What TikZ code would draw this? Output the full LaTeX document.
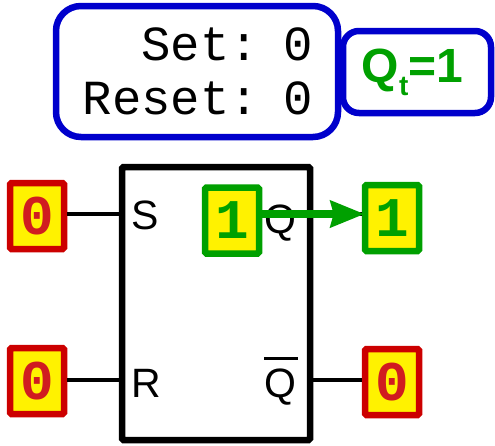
\documentclass[tikz,border=0pt]{standalone}
\usepackage{fontspec}
\setmainfont{Liberation Sans}
\setmonofont{Liberation Mono}
\usetikzlibrary{arrows.meta}
\definecolor{rimblue}{RGB}{0,0,204}
\definecolor{flowgreen}{RGB}{0,160,0}
\definecolor{rimred}{RGB}{204,0,0}
\definecolor{bitred}{RGB}{208,28,32}

\begin{document}
\begin{tikzpicture}[x=1pt,y=-1pt,
  panel/.style={draw=rimblue,line width=6.5pt,fill=white},
  bit/.style={draw=#1,line width=6.5pt,fill=yellow,rounded corners=1.5pt,minimum width=54pt,minimum height=66pt,inner sep=0pt,font=\ttfamily\bfseries\fontsize{56}{56}\selectfont},
  bitlow/.style={bit=rimred,text=bitred},
  bithigh/.style={bit=flowgreen,text=flowgreen},
  pin/.style={font=\fontsize{41}{41}\selectfont,inner sep=0pt,text=black},
  wire/.style={line width=3.5pt},
  flow/.style={-{Stealth[length=34pt,width=26pt,inset=3pt]},line width=8pt,draw=flowgreen,shorten >=-3pt}]
\useasboundingbox (0,0) rectangle (495,445);
\node[panel,rounded corners=25pt,minimum width=282pt,minimum height=131pt,inner xsep=25pt,inner ysep=0pt,text width=232pt,align=right,font=\ttfamily\fontsize{49}{54}\selectfont] (status) at (197,71.5) {Set: 0\\Reset: 0};
\node[panel,rounded corners=16pt,minimum width=148pt,minimum height=82pt,inner sep=0pt,text=flowgreen,font=\bfseries\fontsize{48}{48}\selectfont] (state) at (417,72) {Q{\fontsize{28}{28}\selectfont\raisebox{-13pt}{t}}=1\kern9pt};
\node[draw,line width=6.5pt,rounded corners=1.5pt,minimum width=188pt,minimum height=273pt,inner sep=0pt] (block) at (216,303.5) {};
\node[pin,anchor=base west] (pinS) at (131.5,229) {S};
\node[pin,anchor=base west] (pinR) at (131.5,397) {R};
\node[pin,anchor=base west] (pinQ) at (264,233) {Q};
\node[pin,anchor=base west] (pinNQ) at (264,397) {\rlap{\raisebox{37pt}{\rule{34pt}{3pt}}}Q};
\node[bitlow] (inS) at (37,216) {0};
\node[bitlow] (inR) at (37,381) {0};
\node[bithigh] (bitQ) at (232,220.5) {1};
\node[bithigh] (outQ) at (392,218) {1};
\node[bitlow] (outNQ) at (392,382) {0};
\coordinate (levelS) at (0,214);
\coordinate (levelR) at (0,380);
\draw[wire] (inS.east|-levelS) -- (block.west|-levelS);
\draw[wire] (inR.east|-levelR) -- (block.west|-levelR);
\draw[wire] (block.east|-levelR) -- (outNQ.west|-levelR);
\draw[wire] (block.east|-levelS) -- (outQ.west|-levelS);
\draw[flow] (bitQ.east|-levelS) -- (outQ.west|-levelS);
\end{tikzpicture}
\end{document}
